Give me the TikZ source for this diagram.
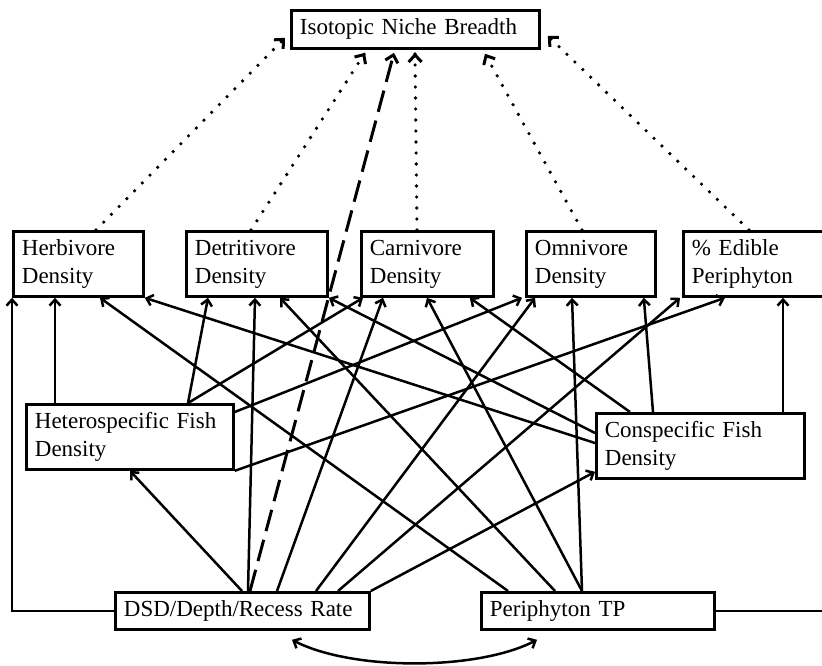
\documentclass[tikz,border=0pt]{standalone}
\usepackage{fontspec}
\setmainfont{Liberation Serif}
\usetikzlibrary{arrows.meta,decorations.markings}

\tikzset{
  box/.style={draw, rectangle, line width=2.8pt, anchor=north west,
    inner xsep=8.5pt, inner ysep=0pt, align=left},
  link/.style={line width=2.5pt, -{Straight Barb[length=6pt,width=11pt]}},
  solidtip/.style={postaction={decorate, decoration={markings,
    mark=at position 1 with {\pgfsetdash{}{0pt}\arrow[line width=3pt]{Straight Barb[length=7pt,width=13pt]}}}}},
  dotlink/.style={line width=3.6pt, line cap=round, dash pattern=on 0pt off 11pt, solidtip},
  dashlink/.style={line width=3pt, dash pattern=on 22pt off 9pt, solidtip},
}

\begin{document}
\begin{tikzpicture}[x=1pt,y=1pt,yscale=-1,xscale=1,font=\fontsize{23}{28}\selectfont]
\useasboundingbox (0,0) rectangle (822,665);
\clip (0,0) rectangle (822,665);

% Response
\node[box, minimum width=248pt, minimum height=38pt, text width=231pt] (iso) at (290,9) {Isotopic Niche Breadth};

% Consumer row
\node[box, minimum width=130pt, minimum height=65pt, text width=113pt] (herb) at (12,230) {Herbivore\\Density};
\node[box, minimum width=141pt, minimum height=65pt, text width=124pt] (detr) at (185,230) {Detritivore\\Density};
\node[box, minimum width=132pt, minimum height=65pt, text width=115pt] (carn) at (360,230) {Carnivore\\Density};
\node[box, minimum width=129pt, minimum height=65pt, text width=112pt] (omni) at (525,230) {Omnivore\\Density};
\node[box, minimum width=150pt, minimum height=65pt, text width=133pt] (edib) at (682,230) {\% Edible\\Periphyton};

% Fish
\node[box, minimum width=207pt, minimum height=65pt, text width=190pt] (hetero) at (25,403) {Heterospecific Fish\\Density};
\node[box, minimum width=208pt, minimum height=65pt, text width=191pt] (consp) at (595,412) {Conspecific Fish\\Density};

% Drivers
\node[box, minimum width=254pt, minimum height=37pt, text width=237pt] (dsd) at (114,591) {DSD/Depth/Recess Rate};
\node[box, minimum width=233pt, minimum height=37pt, text width=216pt] (ptp) at (480,591) {Periphyton TP};

% Links to niche breadth
\draw[dotlink] ([xshift=84pt]herb.north west) -- ([xshift=-5pt,yshift=-12pt]iso.south west);
\draw[dotlink] ([xshift=66pt]detr.north west) -- ([xshift=75pt,yshift=3pt]iso.south west);
\draw[dotlink] ([xshift=57pt]carn.north west) -- ([xshift=125pt,yshift=3pt]iso.south west);
\draw[dotlink] ([xshift=57pt]omni.north west) -- ([xshift=195pt,yshift=4pt]iso.south west);
\draw[dotlink] ([xshift=67pt]edib.north west) -- ([xshift=7pt,yshift=-14pt]iso.south east);
\draw[dashlink] ([xshift=136pt]dsd.north west) -- ([xshift=104pt,yshift=3pt]iso.south west);

% Side paths
\draw[link] (dsd.west) -| (herb.south west);
\draw[link] (ptp.east) -| ([xshift=-6pt]edib.south east);

% From heterospecific fish
\draw[link] ([xshift=30pt]hetero.north west) -- ([xshift=43pt]herb.south west);
\draw[link] ([xshift=163pt]hetero.north west) -- ([xshift=23pt]detr.south west);
\draw[link] ([xshift=163pt]hetero.north west) -- ([xshift=3pt]carn.south west);
\draw[link] ([yshift=9pt]hetero.north east) -- ([xshift=-3pt]omni.south west);
\draw[link] (hetero.south east) -- ([xshift=43pt]edib.south west);

% From DSD/depth/recess rate
\draw[link] ([xshift=128pt]dsd.north west) -- ([xshift=105pt]hetero.south west);
\draw[link] ([xshift=134pt]dsd.north west) -- ([xshift=70pt]detr.south west);
\draw[link] ([xshift=163pt]dsd.north west) -- ([xshift=23pt]carn.south west);
\draw[link] ([xshift=202pt]dsd.north west) -- ([xshift=10pt]omni.south west);
\draw[link] ([xshift=224pt]dsd.north west) -- ([xshift=-2pt]edib.south west);
\draw[link] (dsd.north east) -- ([yshift=-8pt]consp.south west);

% From periphyton TP
\draw[link] ([xshift=28pt]ptp.north west) -- ([xshift=88pt]herb.south west);
\draw[link] ([xshift=75pt]ptp.north west) -- ([xshift=95pt]detr.south west);
\draw[link] ([xshift=102pt]ptp.north west) -- ([xshift=67pt]carn.south west);
\draw[link] ([xshift=102pt]ptp.north west) -- ([xshift=47pt]omni.south west);

% From conspecific fish
\draw[link] ([yshift=31pt]consp.north west) -- (herb.south east);
\draw[link] ([yshift=21pt]consp.north west) -- (detr.south east);
\draw[link] ([xshift=35pt]consp.north west) -- ([xshift=-25pt]carn.south east);
\draw[link] ([xshift=58pt]consp.north west) -- ([xshift=-13pt]omni.south east);
\draw[link] ([xshift=188pt]consp.north west) -- ([xshift=101pt]edib.south west);

% Correlation
\draw[line width=2.5pt, {Straight Barb[length=6pt,width=11pt]}-{Straight Barb[length=6pt,width=11pt]}]
  ([xshift=178pt,yshift=9pt]dsd.south west) .. controls +(60,31) and +(-60,31) .. ([xshift=57pt,yshift=9pt]ptp.south west);

\end{tikzpicture}
\end{document}
